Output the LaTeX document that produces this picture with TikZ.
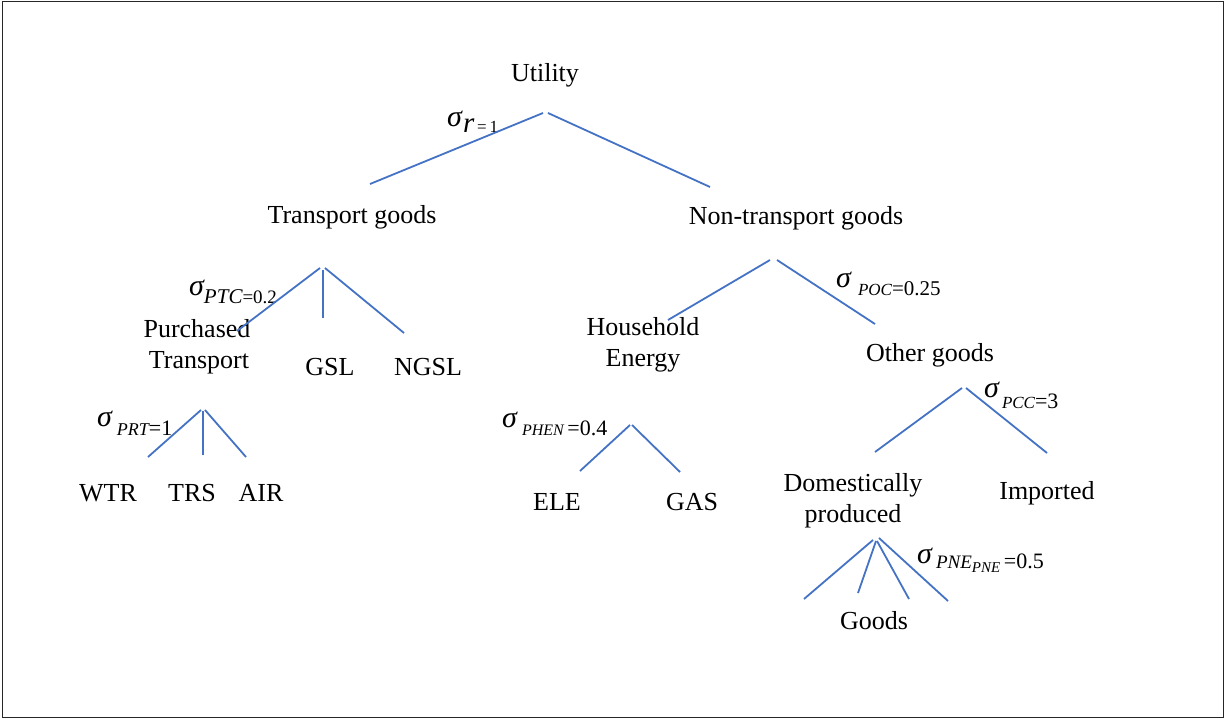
\documentclass[tikz,border=0pt]{standalone}
\usepackage{fontspec}
\setmainfont{Liberation Serif}
\definecolor{lineblue}{RGB}{68,114,196}
\newcommand{\sg}{{\fontsize{30}{34}\selectfont\itshape σ}}
\newcommand{\fs}[1]{\fontsize{#1}{#1}\selectfont}
\begin{document}
\begin{tikzpicture}[x=1pt,y=-1pt,
  lab/.style={font=\fontsize{26}{31}\selectfont, inner sep=0pt, anchor=base},
  sig/.style={inner sep=0pt, anchor=base west},
  conn/.style={draw=lineblue, line width=1.8pt}]
\useasboundingbox (0,0) rectangle (1225,719);
\draw[line width=1.5pt, black!85] (2.5,1.5) rectangle (1223.5,717.5);

% text nodes
\node[lab] (util) at (545,82) {Utility};
\node[lab] (tg) at (352,224) {Transport goods};
\node[lab] (ntg) at (796,225) {Non-transport goods};
\node[lab] (pt1) at (197,337) {Purchased};
\node[lab] (pt2) at (199,368) {Transport};
\node[lab] (gsl) at (330,375) {GSL};
\node[lab] (ngsl) at (428,375) {NGSL};
\node[lab] (he1) at (643,335) {Household};
\node[lab] (he2) at (643,366) {Energy};
\node[lab] (og) at (930,361) {Other goods};
\node[lab] (wtr) at (108,501) {WTR};
\node[lab] (trs) at (192,501) {TRS};
\node[lab] (air) at (261,501) {AIR};
\node[lab] (ele) at (557,510) {ELE};
\node[lab] (gas) at (692,510) {GAS};
\node[lab] (dp1) at (853,491) {Domestically};
\node[lab] (dp2) at (853,522) {produced};
\node[lab] (imp) at (1047,499) {Imported};
\node[lab] (goods) at (874,629) {Goods};

% sigma labels
\node[sig] (sr) at (447,127) {\sg\hspace{1pt}\raisebox{-6pt}{\fs{29}\itshape r\upshape\fs{17}\,=\,1}};
\node[sig] (sptc) at (189,295) {\sg\raisebox{-8pt}{\fs{21}\itshape PTC\upshape\fs{19}=0.2}};
\node[sig] (spoc) at (836,287) {\sg\hspace{7pt}\raisebox{-9pt}{\fs{17}\itshape POC\upshape\fs{21}=0.25}};
\node[sig] (sprt) at (97,426) {\sg\hspace{5pt}\raisebox{-9pt}{\fs{18}\itshape PRT\upshape\fs{22}=1}};
\node[sig] (sphen) at (502,427) {\sg\hspace{5pt}\raisebox{-8pt}{\fs{16}\itshape PHEN\upshape\fs{22}\,=0.4}};
\node[sig] (spcc) at (984,397) {\sg\hspace{3pt}\raisebox{-11pt}{\fs{17}\itshape PCC\upshape\fs{22}=3}};
\node[sig] (spne) at (917,563) {\sg\hspace{4pt}\raisebox{-5pt}{\fs{19}\itshape PNE\raisebox{-4pt}{\fs{15}PNE}\upshape\fs{22}\,=0.5}};

% connector coordinates
\coordinate (u1) at (543,113); \coordinate (u1e) at (370,184);
\coordinate (u2) at (548,113); \coordinate (u2e) at (710,187);
\coordinate (t1) at (320,268); \coordinate (t1e) at (237,331);
\coordinate (t2) at (323,270); \coordinate (t2e) at (323,318);
\coordinate (t3) at (325,268); \coordinate (t3e) at (404,333);
\coordinate (p1) at (201,410); \coordinate (p1e) at (148,457);
\coordinate (p2) at (203,411); \coordinate (p2e) at (203,455);
\coordinate (p3) at (205,410); \coordinate (p3e) at (246,457);
\coordinate (n1) at (770,260); \coordinate (n1e) at (668,320);
\coordinate (n2) at (777,260); \coordinate (n2e) at (875,324);
\coordinate (h1) at (630,425); \coordinate (h1e) at (580,471);
\coordinate (h2) at (632,425); \coordinate (h2e) at (680,472);
\coordinate (o1) at (962,388); \coordinate (o1e) at (875,452);
\coordinate (o2) at (966,388); \coordinate (o2e) at (1047,453);
\coordinate (d1) at (873,540); \coordinate (d1e) at (804,599);
\coordinate (d2) at (876,541); \coordinate (d2e) at (858,593);
\coordinate (d3) at (877,541); \coordinate (d3e) at (909,599);
\coordinate (d4) at (879,538); \coordinate (d4e) at (948,601);

\foreach \a in {u1,u2,t1,t2,t3,p1,p2,p3,n1,n2,h1,h2,o1,o2,d1,d2,d3,d4}
  \draw[conn] (\a) -- (\a e);
\end{tikzpicture}
\end{document}
